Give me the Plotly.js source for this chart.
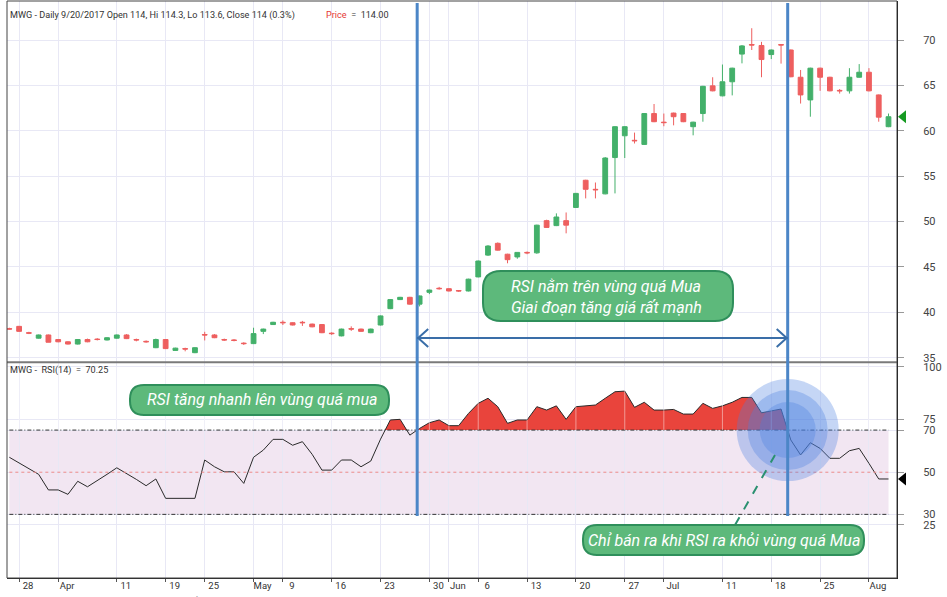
<!DOCTYPE html>
<html><head><meta charset="utf-8">
<script src="https://cdn.plot.ly/plotly-3.0.1.min.js"></script>
<style>html,body{margin:0;padding:0;background:#fff}#chart{width:947px;height:597px}</style>
</head><body><div id="chart"></div>
<script>
// ---- data (daily bars, 27 Mar – 3 Aug 2017) ----
const openP  = [38.2,38.45,37.75,37.15,37.5,37.0,36.75,36.5,37.0,37.05,36.95,37.15,37.5,37.0,36.8,36.1,37.0,35.8,36.0,35.55,
  37.55,37.5,37.0,36.95,36.6,36.55,37.9,38.65,38.9,38.85,38.9,38.7,38.65,37.7,37.4,38.2,38.15,37.75,38.6,40.4,
  41.4,41.65,40.9,42.2,42.65,42.6,42.4,42.35,43.9,46.3,47.6,46.4,46.1,46.6,46.55,50.1,49.55,50.1,51.55,54.55,
  53.55,53.05,57.05,59.45,58.95,58.5,61.9,60.95,61.95,61.9,60.45,61.9,64.95,63.85,65.4,68.45,69.5,69.4,68.4,69.5,
  68.9,65.9,63.4,66.9,65.9,64.45,64.4,65.9,66.45,63.95,60.45];
const highP  = [38.3,38.5,37.85,37.55,37.55,37.05,36.8,37.05,37.1,37.15,37.25,37.55,37.6,37.1,36.9,37.1,37.05,36.1,36.1,36.15,
  37.85,37.6,37.1,37.05,36.7,38.3,38.2,38.95,39.1,38.9,39.05,38.75,38.7,37.8,38.2,38.45,38.2,38.2,39.65,41.45,
  41.7,41.7,41.85,42.5,42.8,42.65,42.45,43.7,45.7,47.4,47.7,46.45,46.6,46.7,49.65,50.2,50.9,51.0,53.15,54.6,
  54.3,57.1,60.5,60.5,59.8,61.95,62.95,61.9,62.0,61.95,61.0,64.95,65.9,67.3,66.95,69.45,71.3,69.8,68.95,69.55,
  68.95,66.7,66.95,66.95,65.95,64.6,66.9,67.35,66.9,64.0,61.9];
const lowP   = [38.1,37.85,37.6,37.1,36.7,36.7,36.45,36.45,36.7,36.9,36.9,37.1,37.05,36.8,36.65,36.05,35.95,35.75,35.7,35.5,
  36.9,37.15,36.85,36.8,36.4,36.5,37.6,38.6,38.6,38.55,38.5,38.35,37.7,37.5,37.35,37.95,37.85,37.7,38.55,40.35,
  41.35,40.85,40.65,42.0,42.5,42.3,42.25,42.3,43.85,46.2,46.8,45.4,45.9,46.4,46.45,49.3,49.5,48.7,51.5,52.55,
  52.55,53.0,53.1,57.0,58.6,58.45,60.95,60.5,60.6,60.95,59.5,61.0,64.35,63.8,63.9,67.43,68.9,65.9,67.9,67.4,
  65.9,63.0,61.55,64.4,64.35,64.1,64.1,65.85,64.35,61.0,60.4];
const closeP = [38.15,37.9,37.7,37.5,36.7,36.75,36.5,37.0,36.75,37.0,37.2,37.5,37.1,36.95,36.75,37.0,36.0,36.05,35.95,36.1,
  37.5,37.2,36.95,36.9,36.55,37.65,38.15,38.9,38.85,38.6,38.85,38.4,37.75,37.65,38.15,38.15,37.9,38.15,39.6,41.4,
  41.65,40.9,41.8,42.45,42.6,42.35,42.35,43.65,45.65,47.3,46.85,45.8,46.6,46.55,49.6,49.35,50.5,49.6,53.1,53.55,
  53.5,57.0,60.45,60.45,58.9,61.9,61.0,60.9,61.55,61.0,60.95,64.9,64.4,65.4,66.9,69.35,69.45,67.85,68.9,69.45,
  65.95,63.95,66.9,65.9,64.4,64.4,65.9,66.45,64.4,61.5,61.55];
const rsi14  = [57.1,54.4,51.7,49.0,41.6,41.6,39.5,45.7,43.1,45.9,49.0,52.1,49.5,46.6,43.6,46.8,37.6,37.6,37.6,37.6,
  55.8,52.6,50.2,50.2,44.7,57.1,60.5,65.6,65.6,62.8,64.5,58.5,51.0,51.0,55.8,55.8,52.6,55.3,65.7,74.8,
  75.1,67.6,70.8,73.5,74.8,72.1,72.1,77.9,82.7,85.1,81.1,73.2,74.8,74.8,81.1,79.5,81.5,75.1,81.1,81.5,
  81.9,85.1,88.2,88.5,80.8,83.2,79.5,79.5,79.8,77.6,77.6,82.7,80.3,81.5,83.2,85.5,85.5,78.2,79.2,80.0,
  65.3,58.2,64.0,61.3,56.6,56.6,60.2,61.3,54.2,46.8,46.8];
const tickIdx  = [1,5,11,16,20,25,28,33,38,43,45,48,53,58,63,67,73,78,83,88];
const tickText = ['28','Apr','11','19','25','May','9','16','23','30','Jun','6','13','20','27','Jul','11','18','25','Aug'];
const priceTicks = [35,40,45,50,55,60,65,70];
const rsiTicks = [25,30,50,70,75,100];
const rsiUpper = 70, rsiLower = 30, rsiMid = 50;

// ---- derived ----
const n = closeP.length;
const idx = closeP.map((_, i) => i);
const fx = [], fy = [];
const crossUp = [], crossDown = [];
for (let i = 0; i < n; i++) {
  if (i > 0) {
    const a = rsi14[i-1], b = rsi14[i];
    if ((a - rsiUpper) * (b - rsiUpper) < 0) {
      const t = (rsiUpper - a) / (b - a);
      fx.push(i - 1 + t); fy.push(rsiUpper);
      (b > a ? crossUp : crossDown).push(i - 1 + t);
    }
  }
  fx.push(i); fy.push(Math.max(rsi14[i], rsiUpper));
}
const entryX = crossUp.find(v => v > 40);
const exitX = crossDown[crossDown.length - 1];

const PX = x => (x - 7) / 890;
const PY = y => (578 - y) / 577;

const GREEN = '#43b06a', RED = '#ee5f5f';
const traces = [
  {type:'candlestick', x: idx, open: openP, high: highP, low: lowP, close: closeP,
   xaxis:'x', yaxis:'y', whiskerwidth:0,
   increasing:{line:{color:GREEN, width:1}, fillcolor:GREEN},
   decreasing:{line:{color:RED, width:1}, fillcolor:RED}, hoverinfo:'skip'},
  {type:'scatter', mode:'lines', x: fx, y: fx.map(() => rsiUpper), xaxis:'x', yaxis:'y2',
   line:{width:0}, hoverinfo:'skip'},
  {type:'scatter', mode:'lines', x: fx, y: fy, xaxis:'x', yaxis:'y2', fill:'tonexty',
   fillcolor:'#e9443c', line:{width:0}, hoverinfo:'skip'},
  {type:'scatter', mode:'lines', x: idx, y: rsi14, xaxis:'x', yaxis:'y2',
   line:{color:'#2a2a2a', width:1}, hoverinfo:'skip'}
];

function roundRect(cx, cy, w, h, r, fill, border) {
  const p = `M ${-w+r},${h} L ${w-r},${h} Q ${w},${h} ${w},${h-r} L ${w},${-h+r} Q ${w},${-h} ${w-r},${-h} ` +
            `L ${-w+r},${-h} Q ${-w},${-h} ${-w},${-h+r} L ${-w},${h-r} Q ${-w},${h} ${-w+r},${h} Z`;
  return {type:'path', xref:'paper', yref:'paper', xsizemode:'pixel', ysizemode:'pixel',
          xanchor: PX(cx), yanchor: PY(cy), path: p, fillcolor: fill,
          line:{color: border, width:2}, layer:'above'};
}
function circle(r) {
  return {type:'circle', xref:'x', yref:'y2', xsizemode:'pixel', ysizemode:'pixel',
          xanchor: exitX, yanchor: rsiUpper, x0:-r, x1:r, y0:-r, y1:r,
          fillcolor:'rgba(74,127,224,0.32)', line:{width:0}, layer:'above'};
}
function lastMarker(yref, value, color) {
  return {type:'path', xref:'paper', yref: yref, xsizemode:'pixel', ysizemode:'pixel',
          xanchor: 1, yanchor: value, path:'M 1,0 L 9,6.5 L 9,-6.5 Z',
          fillcolor: color, line:{width:0}, layer:'above'};
}
const dashDot = '4px,2px,1px,2px';

const shapes = [
  {type:'rect', xref:'x', yref:'y2', x0:0, x1:n-1, y0:rsiLower, y1:rsiUpper,
   fillcolor:'#f2e6f2', line:{width:0}, layer:'below'},
  {type:'line', xref:'x', yref:'y2', x0:0, x1:n-1, y0:rsiMid, y1:rsiMid,
   line:{color:'#f08a8a', width:1, dash:'dot'}},
  {type:'line', xref:'x', yref:'y2', x0:0, x1:n-1, y0:rsiUpper, y1:rsiUpper,
   line:{color:'#333', width:1, dash:dashDot}},
  {type:'line', xref:'x', yref:'y2', x0:0, x1:n-1, y0:rsiLower, y1:rsiLower,
   line:{color:'#333', width:1, dash:dashDot}},
  ...tickIdx.map(t => ({type:'line', xref:'x', yref:'y2', x0:t, x1:t, y0:rsiUpper, y1:100,
   line:{color:'rgba(255,255,255,0.45)', width:1}, layer:'above'})),
  {type:'line', xref:'paper', yref:'paper', x0:0, x1:1, y0:PY(362.3), y1:PY(362.3),
   line:{color:'#7a7a7a', width:2}},
  {type:'rect', xref:'paper', yref:'paper', x0:0, x1:1, y0:0, y1:1, line:{color:'#444', width:1}},
  circle(51), circle(40), circle(28),
  {type:'line', xref:'x', yref:'paper', x0:entryX, x1:entryX, y0:PY(516), y1:PY(3),
   line:{color:'#4c86c7', width:3}, layer:'above'},
  {type:'line', xref:'x', yref:'paper', x0:exitX, x1:exitX, y0:PY(516), y1:PY(3),
   line:{color:'#4c86c7', width:3}, layer:'above'},
  {type:'line', xref:'x', yref:'paper', x0:entryX, x1:exitX, y0:PY(338), y1:PY(338),
   line:{color:'#3a6ea8', width:2}, layer:'above'},
  {type:'path', xref:'x', yref:'paper', xsizemode:'pixel', ysizemode:'pixel', xanchor:entryX, yanchor:PY(338),
   path:'M 11,9 L 1,0 L 11,-9', line:{color:'#3a6ea8', width:2}, layer:'above'},
  {type:'path', xref:'x', yref:'paper', xsizemode:'pixel', ysizemode:'pixel', xanchor:exitX, yanchor:PY(338),
   path:'M -11,9 L -1,0 L -11,-9', line:{color:'#3a6ea8', width:2}, layer:'above'},
  {type:'line', xref:'paper', yref:'paper', x0:PX(735), x1:PX(775), y0:PY(525), y1:PY(455),
   line:{color:'#2a9070', width:2, dash:'dash'}, layer:'above'},
  roundRect(608, 296, 125, 25, 18, '#5db97b', '#2f8f5b'),
  roundRect(259.5, 400, 129.5, 15, 14, '#5db97b', '#2f8f5b'),
  roundRect(723.5, 540, 140.5, 15, 14, '#5db97b', '#2f8f5b'),
  lastMarker('y', closeP[n-1], '#169a22'),
  lastMarker('y2', rsi14[n-1], '#000')
];

const boxFont = {family:'Roboto, "Open Sans", sans-serif', size:16, color:'#ffffff', style:'italic'};
const hdrFont = {family:'Roboto, sans-serif', size:9.1, color:'#333'};
const annotations = [
  {xref:'paper', yref:'paper', x:PX(509), y:PY(297), xanchor:'left', yanchor:'middle', align:'left', showarrow:false,
   text:'RSI nằm trên vùng quá Mua<br>Giai đoạn tăng giá rất mạnh', font: boxFont},
  {xref:'paper', yref:'paper', x:PX(262), y:PY(400), xanchor:'center', yanchor:'middle', showarrow:false,
   text:'RSI tăng nhanh lên vùng quá mua', font: boxFont},
  {xref:'paper', yref:'paper', x:PX(723.5), y:PY(540), xanchor:'center', yanchor:'middle', showarrow:false,
   text:'Chỉ bán ra khi RSI ra khỏi vùng quá Mua', font: boxFont},
  {xref:'paper', yref:'paper', x:PX(8), y:PY(15), xanchor:'left', yanchor:'middle', showarrow:false,
   text:'MWG - Daily 9/20/2017 Open 114, Hi 114.3, Lo 113.6, Close 114 (0.3%)', font: hdrFont},
  {xref:'paper', yref:'paper', x:PX(324), y:PY(15), xanchor:'left', yanchor:'middle', showarrow:false,
   text:'<span style="color:#e53935">Price</span>  =  114.00', font: hdrFont},
  {xref:'paper', yref:'paper', x:PX(8), y:PY(371), xanchor:'left', yanchor:'middle', showarrow:false,
   text:'MWG -  RSI(14)  =  70.25', font: hdrFont},
  {xref:'paper', yref:'paper', x:PX(8), y:PY(592.5), xanchor:'left', yanchor:'top', showarrow:false,
   text:'Created with AmiBroker - advanced charting and technical analysis software. http://www.amibroker.com',
   font:{family:'Roboto, sans-serif', size:6, color:'#555'}}
];

const grid = '#e8e8f5';
const layout = {
  width:947, height:597, margin:{l:7, r:50, t:1, b:19},
  paper_bgcolor:'#fff', plot_bgcolor:'#fff', showlegend:false, hovermode:false,
  font:{family:'Roboto, sans-serif', color:'#333'},
  xaxis:{range:[-0.24, 90.87], anchor:'y2', tickmode:'array', tickvals:tickIdx, ticktext:tickText,
    showgrid:true, gridcolor:grid, zeroline:false, ticks:'outside', ticklen:3, tickcolor:'#555',
    showline:true, linecolor:'#222', linewidth:1, rangeslider:{visible:false}, ticklabelshift:9,
    ticklabelstandoff:-4,
    tickfont:{family:'Roboto, sans-serif', size:9.5, color:'#333'}, fixedrange:true},
  yaxis:{domain:[0.3743, 1], range:[34.52, 74.3], side:'right', anchor:'x', tickmode:'array', tickvals:priceTicks,
    showgrid:true, gridcolor:grid, zeroline:false, ticks:'outside', ticklen:6, tickcolor:'#999',
    showline:true, linecolor:'#111', linewidth:1, ticklabelstandoff:17,
    tickfont:{family:'Roboto, sans-serif', size:11, color:'#444'}, fixedrange:true},
  yaxis2:{domain:[0, 0.3743], range:[-0.2, 102.3], side:'right', anchor:'x', tickmode:'array', tickvals:rsiTicks,
    showgrid:true, gridcolor:grid, zeroline:false, ticks:'outside', ticklen:6, tickcolor:'#999',
    showline:true, linecolor:'#111', linewidth:1, ticklabelstandoff:17,
    tickfont:{family:'Roboto, sans-serif', size:11, color:'#444'}, fixedrange:true},
  shapes, annotations
};
Plotly.newPlot('chart', traces, layout, {displayModeBar:false, staticPlot:true});
</script></body></html>
